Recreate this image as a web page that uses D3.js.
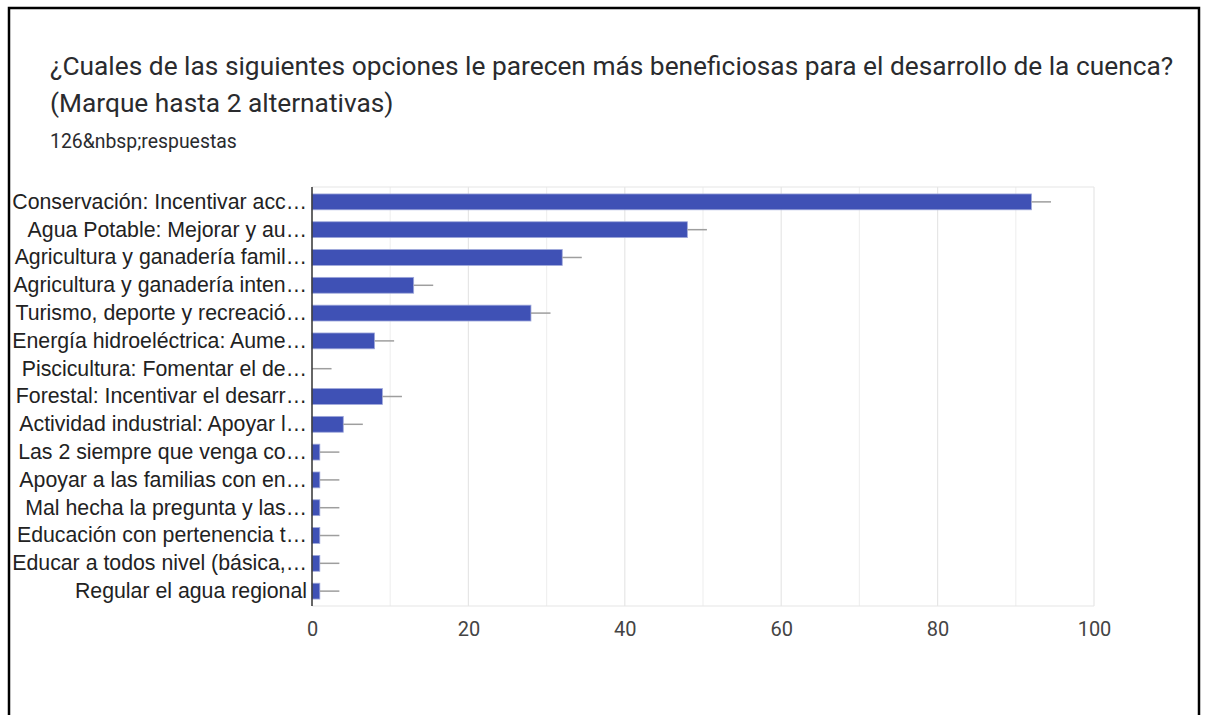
<!DOCTYPE html>
<html>
<head>
<meta charset="utf-8">
<script src="https://cdn.jsdelivr.net/npm/d3@7"></script>
<style>
  body { margin: 0; background: #fff; }
  svg { display: block; }
</style>
</head>
<body>
<svg id="chart" width="1208" height="715"></svg>
<script>
// survey data
var categories = [
    "Conservación: Incentivar acc…",
    "Agua Potable: Mejorar y au…",
    "Agricultura y ganadería famil…",
    "Agricultura y ganadería inten…",
    "Turismo, deporte y recreació…",
    "Energía hidroeléctrica: Aume…",
    "Piscicultura: Fomentar el de…",
    "Forestal: Incentivar el desarr…",
    "Actividad industrial: Apoyar l…",
    "Las 2 siempre que venga co…",
    "Apoyar a las familias con en…",
    "Mal hecha la pregunta y las…",
    "Educación con pertenencia t…",
    "Educar a todos nivel (básica,…",
    "Regular el agua regional"
];
var counts = [92, 48, 32, 13, 28, 8, 0, 9, 4, 1, 1, 1, 1, 1, 1];
var errorMargin = 2.5;
var xTicks = [0, 20, 40, 60, 80, 100];
var gridTicks = [10, 20, 30, 40, 50, 60, 70, 80, 90, 100];

var titleLines = [
    "¿Cuales de las siguientes opciones le parecen más beneficiosas para el desarrollo de la cuenca?",
    "(Marque hasta 2 alternativas)"
];
var subtitle = "126&nbsp;respuestas";

var svg = d3.select("#chart");

// outer frame
svg.append("rect")
    .attr("x", 9).attr("y", 8)
    .attr("width", 1190).attr("height", 720)
    .attr("fill", "none")
    .attr("stroke", "#000")
    .attr("stroke-width", 2.5);

svg.selectAll(".title")
    .data(titleLines)
    .enter().append("text")
    .attr("class", "title")
    .attr("x", 50)
    .attr("y", function (d, i) { return 75 + i * 37; })
    .attr("font-family", "Roboto, 'Noto Sans', sans-serif")
    .attr("font-size", 26.3)
    .attr("fill", "#2a2b2e")
    .text(function (d) { return d; });

svg.append("text")
    .attr("x", 50).attr("y", 148)
    .attr("font-family", "Roboto, 'Noto Sans', sans-serif")
    .attr("font-size", 19.4)
    .attr("fill", "#2a2b2e")
    .text(subtitle);

var margin = {top: 187, left: 312},
    width = 782,
    height = 419;

var x = d3.scaleLinear().domain([0, 100]).range([0, width]);
var y = d3.scaleBand().domain(categories).range([0, height])
    .paddingInner(0.43).paddingOuter(0.25);

var g = svg.append("g")
    .attr("transform", "translate(" + margin.left + "," + margin.top + ")");

// grid
g.selectAll(".grid")
    .data(gridTicks)
    .enter().append("line")
    .attr("class", "grid")
    .attr("x1", function (d) { return x(d); })
    .attr("x2", function (d) { return x(d); })
    .attr("y1", 0).attr("y2", height)
    .attr("stroke", function (d) { return d % 20 === 0 ? "#e6e6e6" : "#f0f0f0"; })
    .attr("stroke-width", 1.2);

g.append("line")
    .attr("x1", 0).attr("x2", width)
    .attr("y1", 0).attr("y2", 0)
    .attr("stroke", "#e6e6e6").attr("stroke-width", 1.2);
g.append("line")
    .attr("x1", 0).attr("x2", width)
    .attr("y1", height).attr("y2", height)
    .attr("stroke", "#e6e6e6").attr("stroke-width", 1.2);

var data = categories.map(function (c, i) { return {name: c, value: counts[i]}; });

// bars
g.selectAll(".bar")
    .data(data)
    .enter().append("rect")
    .attr("class", "bar")
    .attr("x", x(0))
    .attr("y", function (d) { return y(d.name); })
    .attr("width", function (d) { return x(d.value) - x(0); })
    .attr("height", y.bandwidth())
    .attr("fill", "#3f51b5")
    .attr("stroke", function (d) { return d.value > 0 ? "#9fa8da" : "none"; })
    .attr("stroke-width", 0.8);

// error whiskers
g.selectAll(".err")
    .data(data)
    .enter().append("line")
    .attr("class", "err")
    .attr("x1", function (d) { return x(d.value); })
    .attr("x2", function (d) { return x(d.value + errorMargin); })
    .attr("y1", function (d) { return y(d.name) + y.bandwidth() / 2; })
    .attr("y2", function (d) { return y(d.name) + y.bandwidth() / 2; })
    .attr("stroke", "#9e9e9e")
    .attr("stroke-width", 1.5);

// y axis labels
var yAxis = g.append("g")
    .call(d3.axisLeft(y).tickSize(0).tickPadding(5));
yAxis.select(".domain").remove();
yAxis.selectAll("text")
    .attr("font-family", "'Liberation Sans', Arial, sans-serif")
    .attr("font-size", 21.3)
    .attr("fill", "#222");

g.append("line")
    .attr("x1", 0).attr("x2", 0)
    .attr("y1", 0).attr("y2", height)
    .attr("stroke", "#333").attr("stroke-width", 1.5);

// x axis
var xAxis = g.append("g")
    .attr("transform", "translate(0," + height + ")")
    .call(d3.axisBottom(x).tickValues(xTicks).tickSize(0).tickPadding(16));
xAxis.select(".domain").remove();
xAxis.selectAll("text")
    .attr("font-family", "Roboto, 'Liberation Sans', sans-serif")
    .attr("font-size", 20)
    .attr("fill", "#444");
</script>
</body>
</html>
